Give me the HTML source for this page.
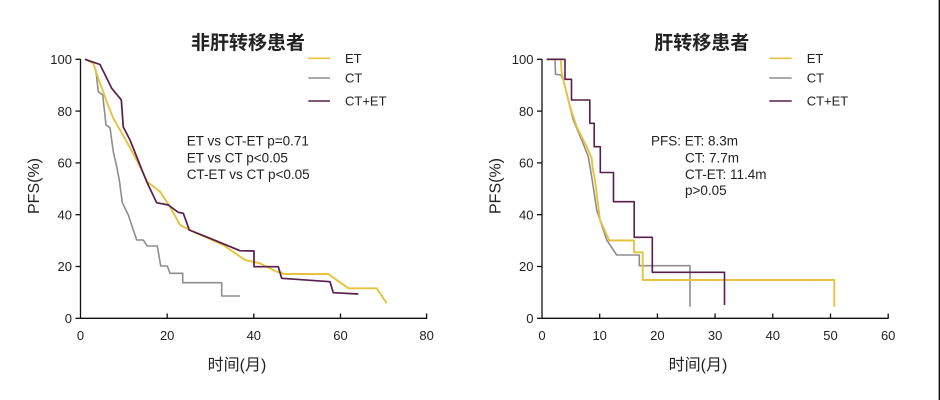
<!DOCTYPE html>
<html><head><meta charset="utf-8"><style>
html,body{margin:0;padding:0;background:#fff;}
svg{display:block;}
text{font-family:"Liberation Sans","Noto Sans CJK SC",sans-serif;fill:#222;}
</style></head><body>
<svg width="940" height="400" viewBox="0 0 940 400" xmlns="http://www.w3.org/2000/svg">
<rect width="940" height="400" fill="#fff"/>
<line x1="939.3" y1="0" x2="939.3" y2="400" stroke="#000" stroke-width="1.3"/>

<!-- LEFT CHART -->
<text x="248" y="49" font-size="19" font-weight="bold" text-anchor="middle" style="font-family:'Noto Sans CJK SC',sans-serif">非肝转移患者</text>
<g stroke="#111" stroke-width="1.3" fill="none">
<line x1="80.5" y1="59" x2="80.5" y2="318.6"/>
<line x1="80" y1="318.3" x2="427.2" y2="318.3"/>
<line x1="75.5" y1="59.3" x2="80.5" y2="59.3"/>
<line x1="75.5" y1="111.1" x2="80.5" y2="111.1"/>
<line x1="75.5" y1="162.9" x2="80.5" y2="162.9"/>
<line x1="75.5" y1="214.7" x2="80.5" y2="214.7"/>
<line x1="75.5" y1="266.5" x2="80.5" y2="266.5"/>
<line x1="75.5" y1="318.3" x2="80.5" y2="318.3"/>
<line x1="167.2" y1="313.5" x2="167.2" y2="318.3"/>
<line x1="253.8" y1="313.5" x2="253.8" y2="318.3"/>
<line x1="340.5" y1="313.5" x2="340.5" y2="318.3"/>
<line x1="426.6" y1="313.5" x2="426.6" y2="318.3"/>
</g>
<g font-size="13" text-anchor="end">
<text x="72" y="64">100</text>
<text x="72" y="115.8">80</text>
<text x="72" y="167.6">60</text>
<text x="72" y="219.4">40</text>
<text x="72" y="271.2">20</text>
<text x="72" y="323">0</text>
</g>
<g font-size="13" text-anchor="middle">
<text x="80.5" y="340">0</text>
<text x="167.2" y="340">20</text>
<text x="253.8" y="340">40</text>
<text x="340.5" y="340">60</text>
<text x="426.6" y="340">80</text>
</g>
<text x="237" y="370" font-size="16" text-anchor="middle">时间(月)</text>
<text transform="translate(39,186) rotate(-90)" font-size="16" text-anchor="middle">PFS(%)</text>

<g fill="none" stroke-linejoin="round">
<polyline stroke="#8e8e8e" stroke-width="1.6" points="85,59.3 93.3,63.3 96,71.7 98.3,91.7 102.7,95 106,125 110,127.7 113.3,151.7 116.7,166.7 119.3,180 122.3,202.7 128.3,215 133.3,230 136.7,240 143.3,240 147.3,246 157.3,246 160.7,266 167.3,266 170,273.3 182.7,273.3 182.7,282.7 221.7,282.7 221.7,296 240,296"/>
<polyline stroke="#e6c33c" stroke-width="1.9" points="85,59.3 93.3,63.3 98.3,78.3 106.7,101.7 113.3,118.3 126.7,141.7 138.3,163.3 147.3,181.7 160,191.7 170,206.7 180,225 193.3,231.7 223.3,245 245,260 260,263.3 276.7,271.7 285,274 328.3,274 348.3,288.3 376.7,288.3 386.7,303.3"/>
<polyline stroke="#5a1d4e" stroke-width="1.7" points="85,59.3 100,64.5 111.7,88.3 120,98.3 121.3,100 123.3,127 130,140 143.3,173.3 146.7,181.7 156.7,202.7 168.3,205 178.3,212.3 183.3,213.3 189.3,230 210,238.3 240,250.7 254,251 254,266.7 278.3,266.7 281.7,278.3 330,281.7 333.3,292.7 358.3,294"/>
</g>
<g stroke-width="1.6">
<line x1="308.3" y1="58.3" x2="330" y2="58.3" stroke="#e6c33c"/>
<line x1="308.3" y1="78" x2="330" y2="78" stroke="#8e8e8e"/>
<line x1="308.3" y1="101" x2="330" y2="101" stroke="#5a1d4e"/>
</g>
<g font-size="13">
<text x="345" y="63">ET</text>
<text x="345" y="82.5">CT</text>
<text x="345" y="105.5">CT+ET</text>
</g>
<g font-size="13.5">
<text x="186.7" y="145.5">ET vs CT-ET p=0.71</text>
<text x="186.7" y="162.5">ET vs CT p&lt;0.05</text>
<text x="186.7" y="179">CT-ET vs CT p&lt;0.05</text>
</g>

<!-- RIGHT CHART -->
<text x="701.7" y="49" font-size="19" font-weight="bold" text-anchor="middle" style="font-family:'Noto Sans CJK SC',sans-serif">肝转移患者</text>
<g stroke="#111" stroke-width="1.3" fill="none">
<line x1="542" y1="59" x2="542" y2="318.6"/>
<line x1="541.5" y1="318.3" x2="888.7" y2="318.3"/>
<line x1="537" y1="59.3" x2="542" y2="59.3"/>
<line x1="537" y1="111.1" x2="542" y2="111.1"/>
<line x1="537" y1="162.9" x2="542" y2="162.9"/>
<line x1="537" y1="214.7" x2="542" y2="214.7"/>
<line x1="537" y1="266.5" x2="542" y2="266.5"/>
<line x1="537" y1="318.3" x2="542" y2="318.3"/>
<line x1="599.7" y1="313.5" x2="599.7" y2="318.3"/>
<line x1="657.4" y1="313.5" x2="657.4" y2="318.3"/>
<line x1="715.1" y1="313.5" x2="715.1" y2="318.3"/>
<line x1="772.8" y1="313.5" x2="772.8" y2="318.3"/>
<line x1="830.5" y1="313.5" x2="830.5" y2="318.3"/>
<line x1="888.2" y1="313.5" x2="888.2" y2="318.3"/>
</g>
<g font-size="13" text-anchor="end">
<text x="533.5" y="64">100</text>
<text x="533.5" y="115.8">80</text>
<text x="533.5" y="167.6">60</text>
<text x="533.5" y="219.4">40</text>
<text x="533.5" y="271.2">20</text>
<text x="533.5" y="323">0</text>
</g>
<g font-size="13" text-anchor="middle">
<text x="542" y="340">0</text>
<text x="599.7" y="340">10</text>
<text x="657.4" y="340">20</text>
<text x="715.1" y="340">30</text>
<text x="772.8" y="340">40</text>
<text x="830.5" y="340">50</text>
<text x="888.2" y="340">60</text>
</g>
<text x="698" y="370" font-size="16" text-anchor="middle">时间(月)</text>
<text transform="translate(500.5,186) rotate(-90)" font-size="16" text-anchor="middle">PFS(%)</text>

<g fill="none" stroke-linejoin="round">
<polyline stroke="#8e8e8e" stroke-width="1.6" points="546.7,59.3 555,59.3 555.5,74.3 561,75 563.3,80 573.3,120 581.7,140 588.3,156.7 591.7,176.7 596.7,210 606.7,240 616.7,255 639.3,255 639.3,265.7 690,265.7 690,306.7"/>
<polyline stroke="#e6c33c" stroke-width="1.9" points="546.7,59.3 560.7,59.3 561.7,73.3 570,106.7 576.7,126.7 586.7,146.7 591.7,158.3 592.7,168.3 595,180 600,220 609.3,240.5 634,240.5 634,252.3 642.7,252.3 642.7,280 834.3,280 834.3,306.7"/>
<polyline stroke="#5a1d4e" stroke-width="1.6" points="546.7,59.3 565,59.3 565,79.3 571.5,79.3 571.5,100 589.8,100 589.8,123.3 594.2,123.3 594.2,146.7 600.3,146.7 600.3,172.5 613.5,172.5 613.5,201.7 634.2,201.7 634.2,237.3 652.3,237.3 652.3,272.3 724.5,272.3 724.5,305"/>
</g>
<g stroke-width="1.6">
<line x1="769.3" y1="58.3" x2="791.7" y2="58.3" stroke="#e6c33c"/>
<line x1="769.3" y1="78" x2="791.7" y2="78" stroke="#8e8e8e"/>
<line x1="769.3" y1="101" x2="791.7" y2="101" stroke="#5a1d4e"/>
</g>
<g font-size="13">
<text x="806.7" y="63">ET</text>
<text x="806.7" y="82.5">CT</text>
<text x="806.7" y="105.5">CT+ET</text>
</g>
<g font-size="13.5">
<text x="651" y="145.5">PFS: ET: 8.3m</text>
<text x="685" y="162.5">CT: 7.7m</text>
<text x="685" y="179">CT-ET: 11.4m</text>
<text x="685" y="195">p&gt;0.05</text>
</g>
</svg>
</body></html>
